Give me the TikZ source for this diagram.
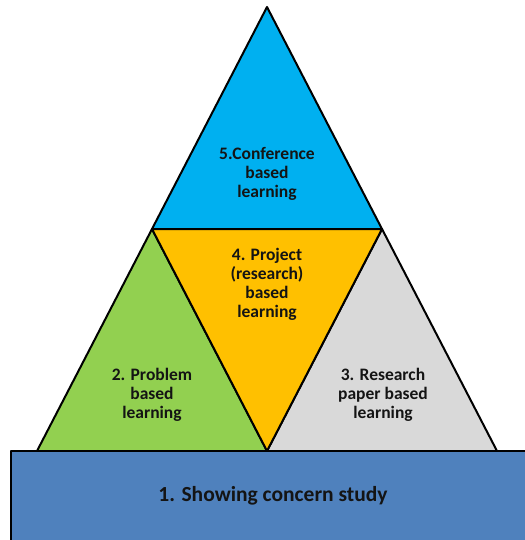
\documentclass[tikz,border=0pt]{standalone}
\usepackage{fontspec}
\setmainfont{Carlito}
\definecolor{topc}{HTML}{00B0F0}
\definecolor{midc}{HTML}{FFC000}
\definecolor{leftc}{HTML}{92D050}
\definecolor{rightc}{HTML}{D9D9D9}
\definecolor{basec}{HTML}{4F81BD}
\definecolor{txt}{HTML}{141414}
\begin{document}
\begin{tikzpicture}[x=1bp,y=-1bp,
  part/.style={draw=black,line width=2bp,line join=round},
  lbl/.style={align=center,text=txt,font=\fontsize{17.5bp}{19bp}\selectfont\bfseries,inner sep=0pt}]
\useasboundingbox (0,0) rectangle (525,540);
\coordinate (A) at (267,7);
\coordinate (L) at (37,451);
\coordinate (R) at (497,451);
\coordinate (ML) at (152,229);
\coordinate (MR) at (382,229);
\coordinate (MB) at (267,451);
\filldraw[part,fill=topc] (A) -- (ML) -- (MR) -- cycle;
\filldraw[part,fill=leftc] (ML) -- (L) -- (MB) -- cycle;
\filldraw[part,fill=rightc] (MR) -- (MB) -- (R) -- cycle;
\filldraw[part,fill=midc] (ML) -- (MR) -- (MB) -- cycle;
\filldraw[part,fill=basec] (11,451) rectangle (540,560);
\node[lbl] (t5) at (267,174) {5.Conference\\based\\learning};
\node[lbl] (t4) at (267,284) {4. Project\\(research)\\based\\learning};
\node[lbl] (t2) at (152,395) {2. Problem\\based\\learning};
\node[lbl] (t3) at (383,395) {3. Research\\paper based\\learning};
\node[lbl,font=\fontsize{21.5bp}{24bp}\selectfont\bfseries] (t1) at (273,496) {1. Showing concern study};
\end{tikzpicture}
\end{document}
